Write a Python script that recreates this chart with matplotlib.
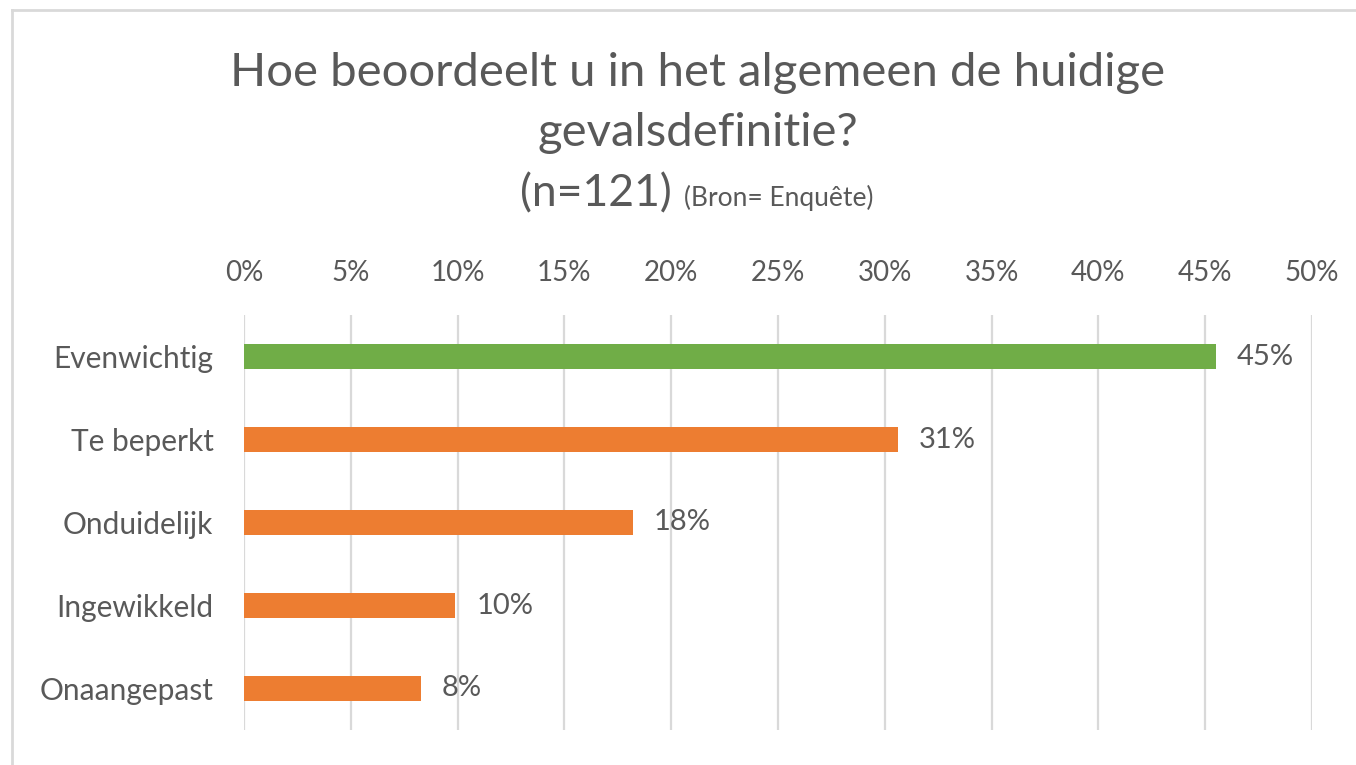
import matplotlib
matplotlib.use("Agg")
import matplotlib.pyplot as plt
from matplotlib.lines import Line2D

categories = ["Evenwichtig", "Te beperkt", "Onduidelijk", "Ingewikkeld", "Onaangepast"]
values = [45.5, 30.6, 18.2, 9.9, 8.3]
value_labels = ["45%", "31%", "18%", "10%", "8%"]
colors = ["#70AD47", "#ED7D31", "#ED7D31", "#ED7D31", "#ED7D31"]
xticks = [0, 5, 10, 15, 20, 25, 30, 35, 40, 45, 50]
xtick_labels = [f"{t}%" for t in xticks]

TXT = "#595959"
plt.rcParams['font.family'] = ['Lato', 'DejaVu Sans']

W, H = 1356, 765
fig = plt.figure(figsize=(W / 100, H / 100), dpi=100)
ax = fig.add_axes([244 / W, 1 - 730 / H, (1312 - 244) / W, (730 - 315) / H])

y = list(range(len(categories)))
ax.barh(y, values, height=0.3, color=colors, zorder=3)
ax.set_ylim(4.5, -0.5)
ax.set_xlim(0, 50)
ax.set_xticks(xticks)
ax.set_xticklabels(xtick_labels)
ax.xaxis.tick_top()
ax.tick_params(axis='x', length=0, pad=21, labelsize=20, labelcolor=TXT)
ax.set_yticks(y)
ax.set_yticklabels(categories)
ax.tick_params(axis='y', length=0, pad=22, labelsize=21.5, labelcolor=TXT)
ax.grid(axis='x', color='#D9D9D9', linewidth=1.6, zorder=0)
for s in ax.spines.values():
    s.set_visible(False)

for yi, v, lab in zip(y, values, value_labels):
    ax.annotate(lab, (v, yi), xytext=(15, 0), textcoords='offset points',
                va='center', ha='left', fontsize=21, color=TXT)

cx = 698 / W
fig.text(cx, 1 - 86 / H, "Hoe beoordeelt u in het algemeen de huidige", ha='center',
         va='baseline', fontsize=34, color=TXT)
fig.text(cx, 1 - 146 / H, "gevalsdefinitie?", ha='center', va='baseline', fontsize=34, color=TXT)
fig.text(672 / W, 1 - 206 / H, "(n=121)", ha='right', va='baseline', fontsize=32, color=TXT)
fig.text(684 / W, 1 - 206 / H, "(Bron= Enquête)", ha='left', va='baseline', fontsize=19, color=TXT)

# chart border
fig.add_artist(Line2D([12 / W, 12 / W], [0, 1 - 10 / H], transform=fig.transFigure,
                      color='#D9D9D9', linewidth=2))
fig.add_artist(Line2D([12 / W, 1], [1 - 10 / H, 1 - 10 / H], transform=fig.transFigure,
                      color='#D9D9D9', linewidth=2))

fig.savefig("out.png", dpi=100)
